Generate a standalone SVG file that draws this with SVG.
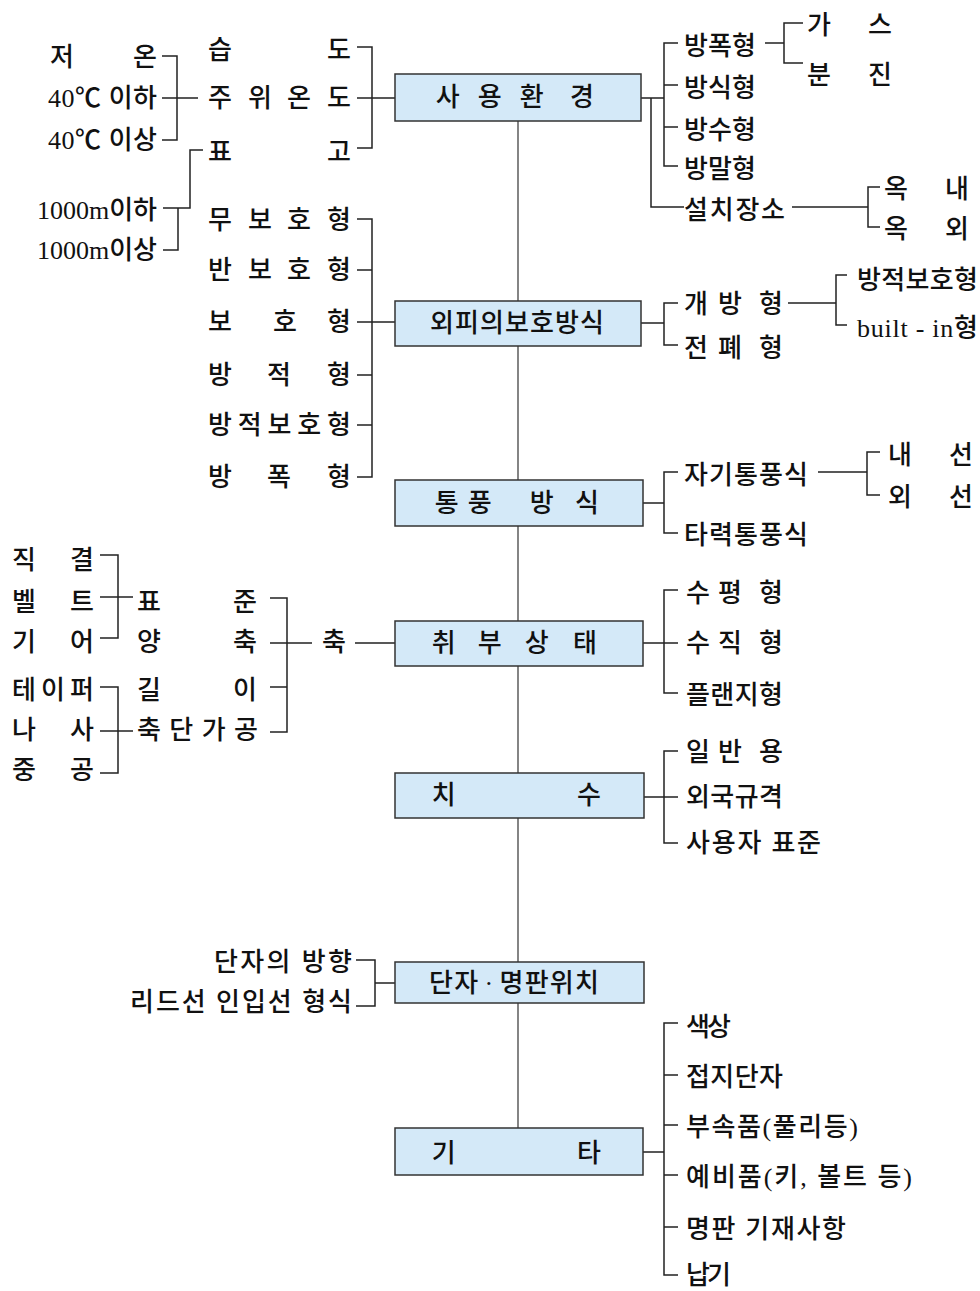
<svg xmlns="http://www.w3.org/2000/svg" width="980" height="1291" viewBox="0 0 980 1291">
<style>
text{font-family:"Liberation Serif","Noto Sans CJK KR",serif;font-size:26px;font-weight:500;fill:#111}
.m{text-anchor:middle}
.e{text-anchor:end}
.box{fill:#d4e9f8;stroke:#333;stroke-width:1.5}
.ln{fill:none;stroke:#222;stroke-width:1.5}
.main{fill:none;stroke:#333;stroke-width:1.2}
</style>
<rect width="980" height="1291" fill="#fff"/>
<g id="connectors">
<path class="main" d="M518 121V1128"/>
<path class="ln" d="M162 56H177V140H162M162 98H198"/>
<path class="ln" d="M357 47H372V148H357M357 98H395"/>
<path class="ln" d="M203 150H190V208H163M178 208V250H163"/>
<path class="ln" d="M357 219H372V477H357M357 270H372M357 322H395M357 375H372M357 425H372"/>
<path class="ln" d="M100 555H118V638H100M100 597H133"/>
<path class="ln" d="M100 687H118V773H100M100 731H133"/>
<path class="ln" d="M270 598H287V732H270M270 643H312M270 687H287M355 643H395"/>
<path class="ln" d="M356 960H375V1006H356M375 983H395"/>
<path class="ln" d="M641 98H664M678 43H664V166H678M664 85H678M664 127H678M651 98V207H684"/>
<path class="ln" d="M765 43H784M803 23H784V63H803"/>
<path class="ln" d="M792 207H868M880 187H868V227H880"/>
<path class="ln" d="M641 323H664M678 303H664V345H678"/>
<path class="ln" d="M788 303H836M847 275H836V325H847"/>
<path class="ln" d="M643 503H664M678 472H664V533H678"/>
<path class="ln" d="M818 472H867M880 452H867V495H880"/>
<path class="ln" d="M643 643H678M678 590H664V693H678"/>
<path class="ln" d="M644 797H678M678 751H664V843H678"/>
<path class="ln" d="M643 1152H664M678 1023H664V1275H678M664 1075H678M664 1125H678M664 1175H678M664 1227H678"/>
</g>
<g id="n-env"><rect class="box" x="395" y="74" width="246" height="47"/><text class="m" y="106"><tspan x="451">사</tspan> <tspan x="493">용</tspan> <tspan x="535">환</tspan> <tspan x="582">경</tspan></text></g>
<g id="n-prot"><rect class="box" x="395" y="301" width="246" height="45"/><text class="m" x="517" y="332" textLength="174" lengthAdjust="spacing">외피의보호방식</text></g>
<g id="n-vent"><rect class="box" x="395" y="480" width="248" height="46"/><text class="m" y="512"><tspan x="450">통</tspan> <tspan x="483">풍</tspan> <tspan x="545">방</tspan> <tspan x="587">식</tspan></text></g>
<g id="n-mount"><rect class="box" x="395" y="621" width="248" height="45"/><text class="m" y="652"><tspan x="447">취</tspan> <tspan x="493">부</tspan> <tspan x="540">상</tspan> <tspan x="585">태</tspan></text></g>
<g id="n-dim"><rect class="box" x="395" y="773" width="249" height="45"/><text class="m" y="804"><tspan x="447">치</tspan> <tspan x="589">수</tspan></text></g>
<g id="n-term"><rect class="box" x="395" y="962" width="249" height="41"/><text class="m" x="514" y="992" textLength="170" lengthAdjust="spacing">단자<tspan dx="5">·</tspan><tspan dx="5">명판위치</tspan></text></g>
<g id="n-etc"><rect class="box" x="395" y="1128" width="248" height="47"/><text class="m" y="1162"><tspan x="447">기</tspan> <tspan x="589">타</tspan></text></g>
<g id="env-left">
<text y="66"><tspan x="50">저</tspan> <tspan x="133">온</tspan></text>
<text class="e" x="157" y="107" textLength="109" lengthAdjust="spacing">40℃ 이하</text>
<text class="e" x="157" y="149" textLength="109" lengthAdjust="spacing">40℃ 이상</text>
<text class="e" x="157" y="219" textLength="120" lengthAdjust="spacing">1000m이하</text>
<text class="e" x="157" y="259" textLength="120" lengthAdjust="spacing">1000m이상</text>
<text y="59"><tspan x="208">습</tspan> <tspan x="327">도</tspan></text>
<text y="107"><tspan x="208">주</tspan> <tspan x="248">위</tspan> <tspan x="287">온</tspan> <tspan x="327">도</tspan></text>
<text y="161"><tspan x="208">표</tspan> <tspan x="327">고</tspan></text>
</g>
<g id="prot-left">
<text y="229"><tspan x="208">무</tspan> <tspan x="248">보</tspan> <tspan x="287">호</tspan> <tspan x="327">형</tspan></text>
<text y="279"><tspan x="208">반</tspan> <tspan x="248">보</tspan> <tspan x="287">호</tspan> <tspan x="327">형</tspan></text>
<text y="331"><tspan x="208">보</tspan> <tspan x="273">호</tspan> <tspan x="327">형</tspan></text>
<text y="384"><tspan x="208">방</tspan> <tspan x="267">적</tspan> <tspan x="327">형</tspan></text>
<text x="208" y="434" textLength="143" lengthAdjust="spacing">방적보호형</text>
<text y="486"><tspan x="208">방</tspan> <tspan x="267">폭</tspan> <tspan x="327">형</tspan></text>
</g>
<g id="mount-left">
<text y="569"><tspan x="12">직</tspan> <tspan x="70">결</tspan></text>
<text y="611"><tspan x="12">벨</tspan> <tspan x="70">트</tspan></text>
<text y="651"><tspan x="12">기</tspan> <tspan x="70">어</tspan></text>
<text x="12" y="699" textLength="82" lengthAdjust="spacing">테이퍼</text>
<text y="739"><tspan x="12">나</tspan> <tspan x="70">사</tspan></text>
<text y="779"><tspan x="12">중</tspan> <tspan x="70">공</tspan></text>
<text y="611"><tspan x="137">표</tspan> <tspan x="233">준</tspan></text>
<text y="651"><tspan x="137">양</tspan> <tspan x="233">축</tspan></text>
<text y="699"><tspan x="137">길</tspan> <tspan x="233">이</tspan></text>
<text x="137" y="739" textLength="121" lengthAdjust="spacing">축단가공</text>
<text x="322" y="651">축</text>
</g>
<g id="term-left">
<text class="e" x="352" y="971" textLength="138" lengthAdjust="spacing">단자의 방향</text>
<text class="e" x="352" y="1011" textLength="222" lengthAdjust="spacing">리드선 인입선 형식</text>
</g>
<g id="env-right">
<text x="684" y="55" textLength="72" lengthAdjust="spacing">방폭형</text>
<text x="684" y="97" textLength="72" lengthAdjust="spacing">방식형</text>
<text x="684" y="139" textLength="72" lengthAdjust="spacing">방수형</text>
<text x="684" y="178" textLength="72" lengthAdjust="spacing">방말형</text>
<text x="684" y="219" textLength="101" lengthAdjust="spacing">설치장소</text>
<text y="34"><tspan x="807">가</tspan> <tspan x="868">스</tspan></text>
<text y="84"><tspan x="807">분</tspan> <tspan x="868">진</tspan></text>
<text y="198"><tspan x="884">옥</tspan> <tspan x="945">내</tspan></text>
<text y="238"><tspan x="884">옥</tspan> <tspan x="945">외</tspan></text>
</g>
<g id="prot-right">
<text y="313"><tspan x="684">개</tspan> <tspan x="718">방</tspan> <tspan x="759">형</tspan></text>
<text y="357"><tspan x="684">전</tspan> <tspan x="718">폐</tspan> <tspan x="759">형</tspan></text>
<text x="857" y="289" textLength="121" lengthAdjust="spacing">방적보호형</text>
<text x="857" y="337" textLength="121" lengthAdjust="spacing">built - in형</text>
</g>
<g id="vent-right">
<text x="684" y="484" textLength="124" lengthAdjust="spacing">자기통풍식</text>
<text x="684" y="544" textLength="124" lengthAdjust="spacing">타력통풍식</text>
<text y="464"><tspan x="888">내</tspan> <tspan x="949">선</tspan></text>
<text y="506"><tspan x="888">외</tspan> <tspan x="949">선</tspan></text>
</g>
<g id="mount-right">
<text y="602"><tspan x="686">수</tspan> <tspan x="718">평</tspan> <tspan x="759">형</tspan></text>
<text y="652"><tspan x="686">수</tspan> <tspan x="718">직</tspan> <tspan x="759">형</tspan></text>
<text x="686" y="704" textLength="97" lengthAdjust="spacing">플랜지형</text>
</g>
<g id="dim-right">
<text y="761"><tspan x="686">일</tspan> <tspan x="718">반</tspan> <tspan x="759">용</tspan></text>
<text x="686" y="806" textLength="97" lengthAdjust="spacing">외국규격</text>
<text x="686" y="852" textLength="135" lengthAdjust="spacing">사용자 표준</text>
</g>
<g id="etc-right">
<text x="686" y="1036" textLength="45" lengthAdjust="spacing">색상</text>
<text x="686" y="1086" textLength="97" lengthAdjust="spacing">접지단자</text>
<text x="686" y="1136" textLength="172" lengthAdjust="spacing">부속품(풀리등)</text>
<text x="686" y="1186" textLength="226" lengthAdjust="spacing">예비품(키, 볼트 등)</text>
<text x="686" y="1238" textLength="160" lengthAdjust="spacing">명판 기재사항</text>
<text x="686" y="1284" textLength="45" lengthAdjust="spacing">납기</text>
</g>
</svg>
